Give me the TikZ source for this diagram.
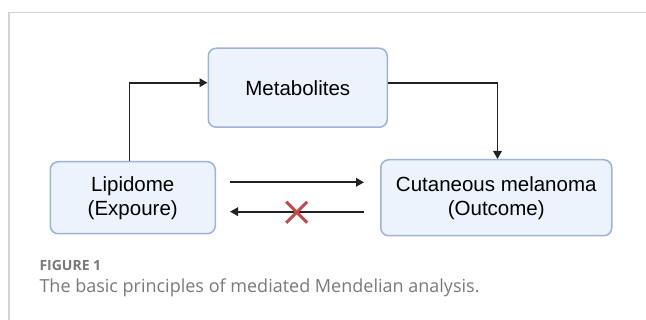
\documentclass[tikz,border=0pt]{standalone}
\usepackage{fontspec}
\setmainfont{Liberation Sans}
\newfontfamily\capfont{Open Sans}
\usetikzlibrary{arrows.meta}
\definecolor{boxfill}{HTML}{EDF3FC}
\definecolor{boxline}{HTML}{9CB3DC}
\definecolor{frameline}{HTML}{D2D2D2}
\definecolor{capgray}{HTML}{7A7A7A}
\definecolor{xred}{HTML}{C24A4A}
\definecolor{arrowblk}{HTML}{222222}
\tikzset{
  boxnode/.style={draw=boxline, fill=boxfill, line width=1.5pt, rounded corners=8pt,
    font=\fontsize{20.5}{24}\selectfont, align=center, inner sep=0pt, anchor=north west},
  conn/.style={draw=arrowblk, line width=1.8pt, -{Triangle[length=8pt,width=8.5pt]}},
}
\begin{document}
\begin{tikzpicture}[x=1pt,y=-1pt]
\useasboundingbox (0,0) rectangle (646,320);
% frame
\draw[frameline, line width=1.2pt] (9,320) -- (9,12.5) -- (646,12.5);
% boxes
\node[boxnode, minimum width=179pt, minimum height=79pt] (met) at (207.5,47.5) {Metabolites};
\node[boxnode, minimum width=165pt, minimum height=72pt] (lip) at (49.5,161) {Lipidome\\(Expoure)};
\node[boxnode, minimum width=231pt, minimum height=76pt] (cm) at (380,159) {Cutaneous melanoma\\(Outcome)};
% connectors
\coordinate (c1) at (129.5,82.7);
\coordinate (c2) at (497.5,82.7);
\draw[conn] (lip.north -| c1) -- (c1) -- (met.west |- c1);
\draw[conn] (met.east |- c2) -- (c2) -- (cm.north -| c2);
\coordinate (a1) at (230,182.3);
\coordinate (a2) at (364,182.3);
\coordinate (b1) at (364,211.7);
\coordinate (b2) at (230,211.7);
\draw[conn] (a1) -- (a2);
\draw[conn] (b1) -- (b2);
\coordinate (xc) at (296.7,212.3);
\draw[xred, line width=3pt] ([shift={(-10.5,-10.5)}]xc) -- ([shift={(10.5,10.5)}]xc)
  ([shift={(-10.5,10.5)}]xc) -- ([shift={(10.5,-10.5)}]xc);
% caption
\node[anchor=base west, inner sep=0pt, text=capgray, font=\capfont\fontsize{14}{16}\selectfont\bfseries] (fig) at (39.3,271) {FIGURE 1};
\node[anchor=base west, inner sep=0pt, text=capgray, font=\capfont\fontsize{18}{22}\selectfont] (cap) at (39.3,293) {The basic principles of mediated Mendelian analysis.};
\end{tikzpicture}
\end{document}
